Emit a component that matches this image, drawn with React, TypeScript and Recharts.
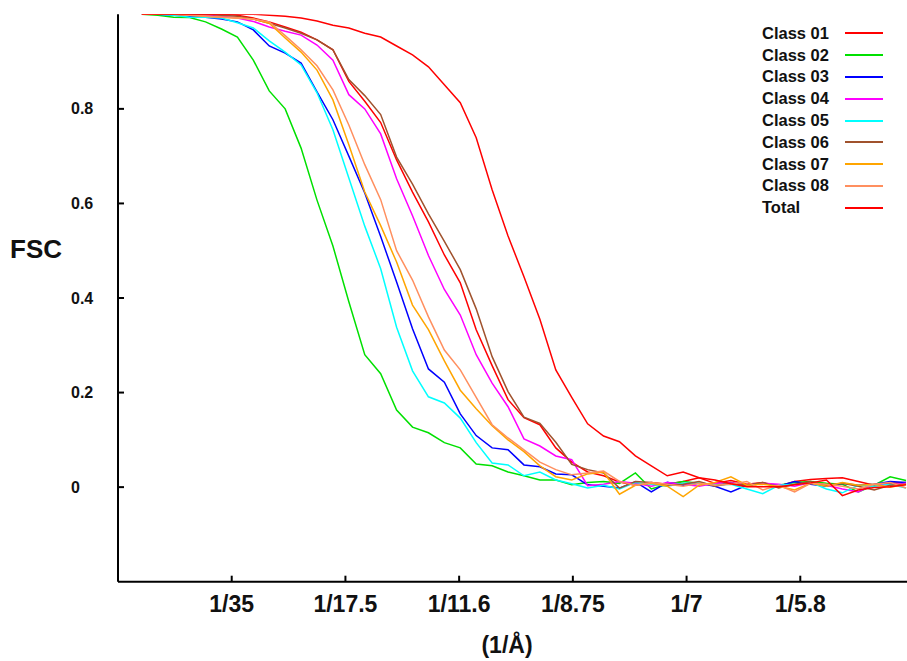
import React from 'react';
import { LineChart, Line, XAxis, YAxis, Legend } from 'recharts';

const FONT = '"Liberation Sans", Arial, sans-serif';

// spatial frequency (1/Å)
const FREQ = [
  0.006, 0.010, 0.014, 0.018, 0.022, 0.026, 0.030, 0.034, 0.038, 0.042,
  0.046, 0.050, 0.054, 0.058, 0.062, 0.066, 0.070, 0.074, 0.078, 0.082,
  0.086, 0.090, 0.094, 0.098, 0.102, 0.106, 0.110, 0.114, 0.118, 0.122,
  0.126, 0.130, 0.134, 0.138, 0.142, 0.146, 0.150, 0.154, 0.158, 0.162,
  0.166, 0.170, 0.174, 0.178, 0.182, 0.186, 0.190, 0.194, 0.198,
];

const CLASS_01 = [
  1.000, 1.000, 1.000, 1.000, 1.000, 1.000, 0.998, 0.992, 0.984, 0.973,
  0.962, 0.946, 0.925, 0.858, 0.816, 0.771, 0.692, 0.624, 0.561, 0.491,
  0.432, 0.333, 0.257, 0.185, 0.147, 0.132, 0.083, 0.053, 0.032, 0.024,
  0.011, 0.004, 0.010, 0.006, 0.012, 0.020, 0.008, 0.014, 0.006, 0.010,
  0.002, 0.012, 0.016, 0.018, 0.020, 0.012, 0.004, 0.008, 0.010,
];
const CLASS_02 = [
  1.000, 0.998, 0.994, 0.993, 0.984, 0.969, 0.952, 0.903, 0.838, 0.800,
  0.717, 0.607, 0.510, 0.392, 0.280, 0.240, 0.163, 0.127, 0.115, 0.094,
  0.083, 0.049, 0.045, 0.032, 0.024, 0.015, 0.015, 0.005, 0.010, 0.012,
  0.008, 0.030, -0.004, 0.006, 0.012, 0.008, 0.004, 0.010, 0.002, 0.008,
  0.004, 0.010, 0.012, 0.008, 0.006, -0.010, 0.004, 0.022, 0.014,
];
const CLASS_03 = [
  1.000, 1.000, 0.998, 0.996, 0.994, 0.990, 0.984, 0.967, 0.933, 0.918,
  0.897, 0.836, 0.777, 0.700, 0.622, 0.530, 0.434, 0.335, 0.250, 0.222,
  0.155, 0.109, 0.083, 0.079, 0.047, 0.043, 0.028, 0.026, 0.005, 0.002,
  -0.002, 0.011, -0.010, 0.010, 0.004, 0.008, 0.002, -0.010, 0.004, 0.008,
  0.002, 0.012, 0.006, 0.002, 0.008, 0.004, 0.006, 0.012, 0.010,
];
const CLASS_04 = [
  1.000, 1.000, 1.000, 1.000, 0.998, 0.996, 0.992, 0.985, 0.973, 0.964,
  0.956, 0.935, 0.903, 0.830, 0.800, 0.747, 0.652, 0.574, 0.490, 0.418,
  0.364, 0.280, 0.220, 0.170, 0.102, 0.087, 0.066, 0.058, 0.003, 0.006,
  0.012, 0.008, 0.002, 0.010, 0.006, 0.002, 0.008, 0.010, 0.004, 0.008,
  0.006, 0.002, 0.010, 0.004, -0.004, -0.010, 0.006, 0.004, 0.008,
];
const CLASS_05 = [
  1.000, 1.000, 0.998, 0.994, 0.994, 0.992, 0.982, 0.971, 0.944, 0.920,
  0.893, 0.834, 0.756, 0.654, 0.552, 0.462, 0.338, 0.246, 0.191, 0.178,
  0.146, 0.094, 0.051, 0.047, 0.024, 0.032, 0.015, 0.007, -0.002, 0.004,
  -0.004, 0.010, 0.006, 0.002, 0.008, 0.010, 0.004, 0.006, -0.004, -0.014,
  0.004, 0.006, 0.010, -0.004, -0.012, 0.004, 0.002, 0.006, -0.002,
];
const CLASS_06 = [
  1.000, 1.000, 1.000, 1.000, 1.000, 0.998, 0.996, 0.990, 0.981, 0.971,
  0.960, 0.946, 0.925, 0.862, 0.828, 0.788, 0.698, 0.641, 0.578, 0.520,
  0.460, 0.377, 0.276, 0.202, 0.148, 0.135, 0.095, 0.048, 0.037, 0.030,
  -0.002, 0.012, 0.010, 0.004, 0.006, 0.012, 0.002, 0.008, 0.004, 0.010,
  -0.002, 0.006, 0.012, 0.004, 0.008, 0.002, -0.006, 0.004, 0.006,
];
const CLASS_07 = [
  1.000, 1.000, 1.000, 0.998, 0.996, 0.994, 0.992, 0.990, 0.981, 0.950,
  0.920, 0.882, 0.819, 0.724, 0.624, 0.553, 0.476, 0.385, 0.333, 0.267,
  0.205, 0.166, 0.130, 0.100, 0.075, 0.045, 0.022, 0.015, 0.028, 0.032,
  -0.015, 0.004, 0.008, 0.002, -0.020, 0.004, 0.010, 0.022, 0.004, 0.006,
  0.002, -0.006, 0.008, 0.002, 0.010, 0.004, 0.006, 0.000, 0.006,
];
const CLASS_08 = [
  1.000, 1.000, 1.000, 0.998, 0.996, 0.994, 0.992, 0.990, 0.984, 0.955,
  0.925, 0.891, 0.840, 0.766, 0.682, 0.608, 0.500, 0.438, 0.360, 0.290,
  0.248, 0.190, 0.132, 0.104, 0.079, 0.053, 0.037, 0.026, 0.030, 0.034,
  0.012, 0.004, 0.010, 0.006, 0.002, 0.008, 0.004, 0.006, 0.012, -0.006,
  0.004, -0.010, 0.008, 0.006, 0.002, -0.004, 0.006, 0.010, -0.002,
];
const TOTAL = [
  1.000, 1.000, 1.000, 1.000, 1.000, 1.000, 1.000, 1.000, 0.998, 0.996,
  0.992, 0.986, 0.977, 0.971, 0.960, 0.952, 0.933, 0.914, 0.889, 0.851,
  0.813, 0.739, 0.629, 0.531, 0.445, 0.355, 0.248, 0.190, 0.134, 0.108,
  0.096, 0.066, 0.045, 0.024, 0.032, 0.020, 0.015, 0.007, 0.001, 0.001,
  0.001, 0.005, 0.009, 0.015, -0.018, -0.006, -0.001, 0.001, 0.005,
];

const SERIES = [
  { key: 'c01', name: 'Class 01', color: '#ff0000', values: CLASS_01 },
  { key: 'c02', name: 'Class 02', color: '#00e000', values: CLASS_02 },
  { key: 'c03', name: 'Class 03', color: '#0000ff', values: CLASS_03 },
  { key: 'c04', name: 'Class 04', color: '#ff00ff', values: CLASS_04 },
  { key: 'c05', name: 'Class 05', color: '#00ffff', values: CLASS_05 },
  { key: 'c06', name: 'Class 06', color: '#a0522d', values: CLASS_06 },
  { key: 'c07', name: 'Class 07', color: '#ffa500', values: CLASS_07 },
  { key: 'c08', name: 'Class 08', color: '#ff8f5f', values: CLASS_08 },
  { key: 'tot', name: 'Total', color: '#ff0000', values: TOTAL },
];

const X_TICKS = [1 / 35, 2 / 35, 3 / 35, 4 / 35, 5 / 35, 6 / 35];
const X_TICK_LABELS = ['1/35', '1/17.5', '1/11.6', '1/8.75', '1/7', '1/5.8'];
const Y_TICKS = [0, 0.2, 0.4, 0.6, 0.8];
const Y_TICK_LABELS = ['0', '0.2', '0.4', '0.6', '0.8'];

const data = FREQ.map((f, i) => {
  const row: Record<string, number> = { f };
  SERIES.forEach((s) => {
    row[s.key] = s.values[i];
  });
  return row;
});

const labelFor = (ticks: number[], labels: string[], v: number) => {
  const i = ticks.findIndex((t) => Math.abs(t - v) < 1e-9);
  return i >= 0 ? labels[i] : '';
};

const FRAME = { stroke: '#000', strokeWidth: 2 };

// negative tickSize makes the tick marks point into the plot (gnuplot style);
// the label positions below compensate for that
const BottomTick = ({ x, y, payload }: any) => (
  <text x={x} y={y + 36} textAnchor="middle" fontFamily={FONT} fontWeight="bold" fontSize={23} fill="#111">
    {labelFor(X_TICKS, X_TICK_LABELS, payload.value)}
  </text>
);

const LeftTick = ({ x, y, payload }: any) => (
  <text x={x - 53} y={y} dy="0.35em" textAnchor="start" fontFamily={FONT} fontWeight="bold" fontSize={16} fill="#111">
    {labelFor(Y_TICKS, Y_TICK_LABELS, payload.value)}
  </text>
);

const XTitle = ({ viewBox }: any) => {
  const vb = viewBox || { x: 118, y: 582 };
  return (
    <text x={vb.x + 389} y={vb.y + 71} textAnchor="middle" fontFamily={FONT} fontWeight="bold" fontSize={23} fill="#111">
      (1/Å)
    </text>
  );
};

const YTitle = ({ viewBox }: any) => {
  const vb = viewBox || { x: 58, y: 14 };
  return (
    <text x={vb.x - 48} y={vb.y + 244} textAnchor="start" fontFamily={FONT} fontWeight="bold" fontSize={26} fill="#111">
      FSC
    </text>
  );
};

const LegendBox = () => (
  <div style={{ fontFamily: FONT, fontWeight: 700, fontSize: 16.5, color: '#111' }}>
    {SERIES.map((s) => (
      <div key={s.key} style={{ display: 'flex', alignItems: 'center', height: 21.8 }}>
        <span style={{ width: 83, whiteSpace: 'nowrap' }}>{s.name}</span>
        <span style={{ width: 38, height: 0, borderTop: `2px solid ${s.color}` }} />
      </div>
    ))}
  </div>
);

export default function App() {
  return (
    <div style={{ position: 'absolute', left: 0, top: 0, width: 907, height: 661, overflow: 'hidden', background: '#fff' }}>
      <LineChart width={930} height={661} data={data} margin={{ top: 14.3, right: 16, bottom: 49.3, left: 58 }}>
        <XAxis
          dataKey="f"
          type="number"
          domain={[0, 0.2]}
          ticks={X_TICKS}
          interval={0}
          allowDataOverflow
          height={30}
          tickSize={-6}
          tickMargin={0}
          tickLine={FRAME}
          axisLine={FRAME}
          tick={<BottomTick />}
          label={(p: any) => <XTitle {...p} />}
        />
        <XAxis
          xAxisId="top"
          orientation="top"
          type="number"
          domain={[0, 0.2]}
          ticks={X_TICKS}
          interval={0}
          allowDataOverflow
          height={0}
          tickSize={-6}
          tickMargin={0}
          tickLine={FRAME}
          axisLine={FRAME}
          tick={false}
        />
        <YAxis
          type="number"
          domain={[-0.2, 1]}
          ticks={Y_TICKS}
          interval={0}
          allowDataOverflow
          width={60}
          tickSize={-6}
          tickMargin={0}
          tickLine={FRAME}
          axisLine={FRAME}
          tick={<LeftTick />}
          label={(p: any) => <YTitle {...p} />}
        />
        <Legend
          layout="vertical"
          align="center"
          verticalAlign="middle"
          content={<LegendBox />}
          wrapperStyle={{ position: 'absolute', left: 762, top: 22.5, width: 130, height: 200 }}
        />
        {SERIES.map((s) => (
          <Line
            key={s.key}
            dataKey={s.key}
            name={s.name}
            type="linear"
            stroke={s.color}
            strokeWidth={1.5}
            dot={false}
            activeDot={false}
            isAnimationActive={false}
          />
        ))}
      </LineChart>
    </div>
  );
}
